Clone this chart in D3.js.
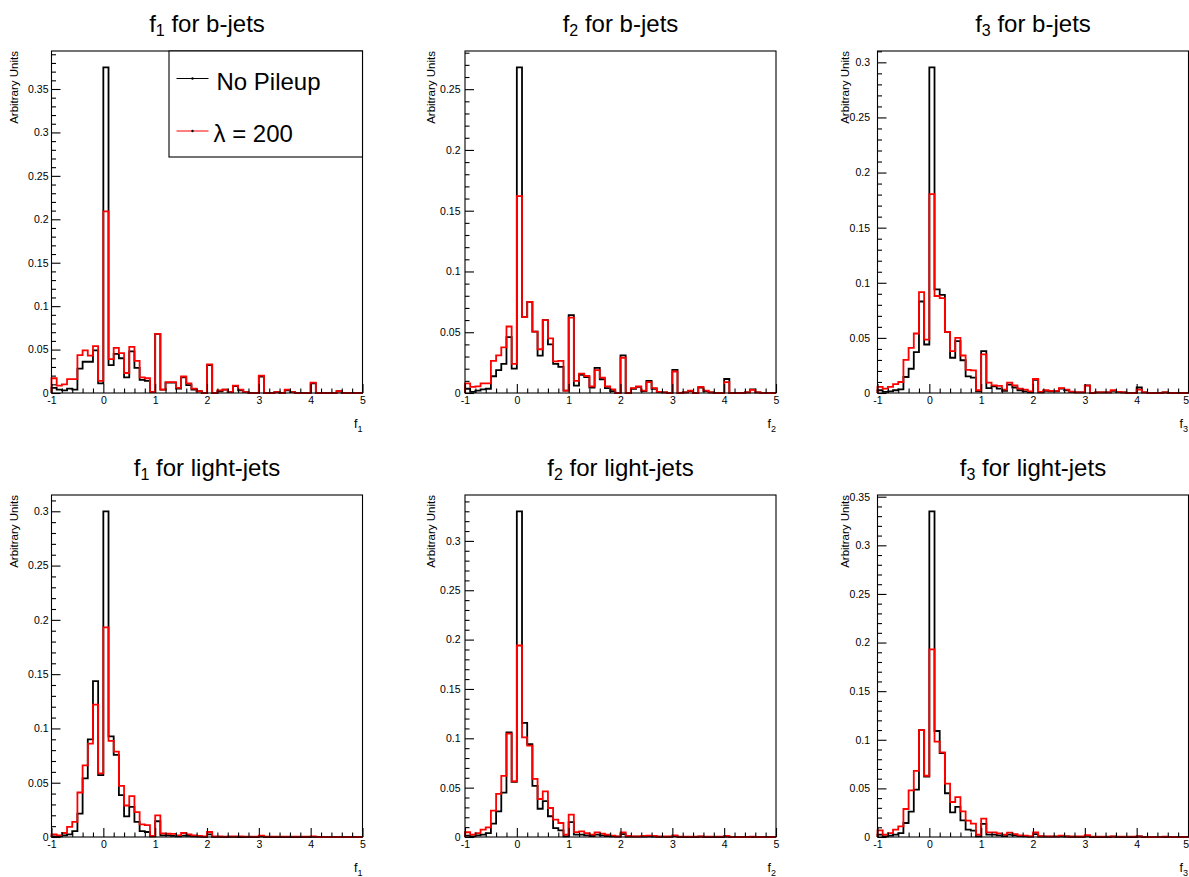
<!DOCTYPE html>
<html><head><meta charset="utf-8">
<script src="https://cdn.jsdelivr.net/npm/d3@7"></script>
<style>
html,body{margin:0;padding:0;background:#fff;}
svg{display:block;font-family:"Liberation Sans",Arial,Helvetica,sans-serif;}
</style></head><body>
<svg id="c" width="1189" height="877"></svg>
<script>
// ---------------- data ----------------
const xRange = [-1, 5];
const nBins = 60;
const xMajorTicks = [-1, 0, 1, 2, 3, 4, 5];
const varIndex = ["1", "2", "3"];
const jetTypes = ["b-jets", "light-jets"];
const legendLabels = ["No Pileup", "λ = 200"];
const seriesColors = ["#000000", "#ff0000"];

// f1, b-jets
const bF1NoPU = [0.006,0.004,0.003,0.005,0.004,0.028,0.036,0.036,0.049,0.011,
  0.375,0.032,0.045,0.040,0.018,0.048,0.029,0.015,0.014,0.001,
  0.068,0.004,0.012,0.012,0.005,0.018,0.009,0.004,0.002,0,
  0.032,0,0.002,0.004,0.001,0.008,0.003,0.001,0,0,
  0.019,0,0,0.001,0,0.003,0.001,0,0,0,
  0.011,0,0,0,0,0.002,0,0,0,0];
const bF1PU200 = [0.017,0.0085,0.010,0.016,0.016,0.0435,0.049,0.043,0.054,0.014,
  0.209,0.039,0.052,0.046,0.023,0.053,0.037,0.018,0.017,0.001,
  0.068,0.004,0.0125,0.0125,0.006,0.019,0.011,0.005,0.002,0,
  0.033,0,0.003,0.004,0.001,0.0085,0.004,0.001,0,0,
  0.020,0,0,0.001,0,0.004,0.001,0,0,0,
  0.012,0,0,0,0,0.002,0,0,0,0];
// f2, b-jets
const bF2NoPU = [0.0035,0.001,0.002,0.003,0.0035,0.0138,0.0188,0.024,0.046,0.020,
  0.268,0.0624,0.075,0.0505,0.0307,0.060,0.040,0.024,0.0215,0.002,
  0.064,0.006,0.015,0.013,0.0045,0.0207,0.0113,0.004,0.0015,0,
  0.031,0,0.0035,0.005,0.0015,0.010,0.0035,0.001,0.0005,0,
  0.019,0,0.0005,0.0015,0,0.0045,0.0015,0.0005,0,0,
  0.0115,0,0,0,0.0005,0.003,0.0005,0,0,0];
const bF2PU200 = [0.008,0.005,0.0055,0.008,0.008,0.0265,0.031,0.0375,0.0547,0.024,
  0.162,0.0624,0.075,0.0505,0.036,0.060,0.045,0.026,0.0265,0.002,
  0.062,0.010,0.016,0.014,0.0055,0.0188,0.0127,0.0055,0.003,0,
  0.029,0,0.004,0.0055,0.002,0.009,0.004,0.001,0.0005,0,
  0.0177,0,0.0005,0.002,0,0.005,0.002,0.0005,0,0,
  0.009,0,0,0,0.0005,0.0025,0.0005,0,0,0];
// f3, b-jets
const bF3NoPU = [0.0025,0.001,0.0015,0.0025,0.0033,0.0145,0.022,0.037,0.083,0.044,
  0.2955,0.094,0.089,0.0555,0.032,0.047,0.0297,0.015,0.014,0.0015,
  0.038,0.0045,0.006,0.004,0.002,0.0076,0.005,0.0025,0.0015,0.0005,
  0.012,0.0005,0.002,0.0015,0.0015,0.004,0.0025,0.001,0.0005,0.0005,
  0.007,0,0.0005,0.0005,0.0005,0.002,0.001,0.0005,0,0,
  0.005,0.0005,0,0,0,0.0005,0,0,0,0];
const bF3PU200 = [0.0055,0.004,0.0055,0.008,0.010,0.030,0.041,0.054,0.0915,0.0485,
  0.1805,0.088,0.086,0.0555,0.038,0.050,0.034,0.021,0.0206,0.0025,
  0.035,0.0094,0.007,0.0064,0.003,0.0094,0.007,0.004,0.003,0.0015,
  0.0127,0.001,0.0025,0.002,0.002,0.0045,0.003,0.0012,0.0005,0.0005,
  0.0067,0,0.0005,0.0005,0.0005,0.0025,0.001,0.0005,0,0,
  0.003,0.0005,0,0,0,0.0005,0,0,0,0];
// f1, light-jets
const lF1NoPU = [0.0005,0.0005,0.0015,0.0025,0.0055,0.0216,0.054,0.090,0.1435,0.057,
  0.300,0.0926,0.0756,0.0386,0.019,0.0277,0.0139,0.0055,0.0046,0.0005,
  0.0145,0.0015,0.0015,0.001,0.0005,0.0012,0.001,0.0005,0.0003,0.0002,
  0.0025,0.0002,0.0002,0,0.0002,0.0002,0,0,0,0,
  0.0005,0,0,0,0,0,0,0,0,0,
  0.0002,0,0,0,0,0,0,0,0,0];
const lF1PU200 = [0.0025,0.0015,0.0037,0.0093,0.014,0.041,0.066,0.086,0.122,0.0586,
  0.193,0.0886,0.0787,0.047,0.029,0.0377,0.023,0.0117,0.011,0.001,
  0.020,0.0034,0.003,0.0028,0.0015,0.0037,0.0025,0.0015,0.001,0.0005,
  0.0046,0.0005,0.0005,0.0003,0.0005,0.0005,0.0005,0.0003,0.0003,0.0003,
  0.0012,0.0003,0.0003,0.0003,0.0003,0.0003,0.0003,0.0003,0.0003,0.0003,
  0.0006,0,0,0,0,0,0,0,0,0];
// f2, light-jets
const lF2NoPU = [0.0014,0.0007,0.0017,0.0024,0.004,0.0136,0.026,0.045,0.106,0.056,
  0.330,0.1156,0.094,0.0517,0.0286,0.0364,0.021,0.009,0.0068,0.0007,
  0.015,0.0024,0.0024,0.0017,0.001,0.0024,0.0017,0.001,0.0007,0.0003,
  0.003,0.0005,0.0003,0.0003,0.0005,0.0007,0.0005,0.0002,0.0002,0.0002,
  0.001,0,0,0,0,0.0003,0,0,0,0,
  0.0005,0,0,0,0,0,0,0,0,0];
const lF2PU200 = [0.0048,0.0024,0.004,0.0075,0.0098,0.0267,0.0436,0.062,0.1047,0.0564,
  0.194,0.101,0.0926,0.0588,0.0385,0.0463,0.0294,0.0176,0.0142,0.0024,
  0.0226,0.005,0.0057,0.004,0.0024,0.0047,0.0034,0.0024,0.0014,0.0007,
  0.0047,0.001,0.0007,0.0007,0.001,0.0014,0.001,0.0005,0.0005,0.0005,
  0.0017,0.0003,0.0003,0.0003,0.0003,0.0005,0.0003,0.0003,0.0003,0.0003,
  0.001,0.0002,0,0,0,0.0003,0,0,0,0];
// f3, light-jets
const lF3NoPU = [0.0024,0.0007,0.0014,0.0024,0.004,0.0144,0.026,0.0487,0.110,0.062,
  0.335,0.109,0.0864,0.045,0.0254,0.031,0.017,0.0075,0.0065,0.0007,
  0.0134,0.0024,0.0024,0.0017,0.001,0.0024,0.0017,0.001,0.0007,0.0003,
  0.003,0.0005,0.0003,0.0003,0.0003,0.0007,0.0005,0.0002,0.0002,0.0002,
  0.0012,0,0,0,0,0.0003,0,0,0,0,
  0.0005,0,0,0,0,0,0,0,0,0];
const lF3PU200 = [0.0069,0.0024,0.004,0.0075,0.011,0.0288,0.048,0.068,0.110,0.063,
  0.193,0.098,0.087,0.055,0.036,0.041,0.0264,0.0168,0.0137,0.0024,
  0.019,0.0048,0.0048,0.0038,0.0024,0.0045,0.003,0.0017,0.0014,0.0007,
  0.0048,0.001,0.0007,0.0007,0.0007,0.0014,0.0007,0.0005,0.0005,0.0005,
  0.002,0.0003,0.0003,0.0003,0.0003,0.0005,0.0003,0.0003,0.0003,0.0003,
  0.0007,0.0002,0,0,0,0.0003,0,0,0,0];

const panelSeries = [
  [bF1NoPU, bF1PU200], [bF2NoPU, bF2PU200], [bF3NoPU, bF3PU200],
  [lF1NoPU, lF1PU200], [lF2NoPU, lF2PU200], [lF3NoPU, lF3PU200]
];

// ---------------- layout ----------------
const frameLeft = [51.5, 465, 877.5];
const frameW = 311;
const frameTop = [51, 495];
const frameH = 342;
const yTitleX = [18, 435, 848.5];
const yLabelPad = [3, 4.5, 7.5];
const FONT_TICK = 10.5;
const CANVAS_W = 1189;

const svg = d3.select("#c");

function histPoints(vals) {
  const w = (xRange[1] - xRange[0]) / nBins;
  const pts = [[xRange[0], 0]];
  vals.forEach((v, i) => {
    const lo = xRange[0] + i * w;
    pts.push([lo, v], [lo + w, v]);
  });
  pts.push([xRange[1], 0]);
  return pts;
}

panelSeries.forEach((series, p) => {
  const row = Math.floor(p / 3), col = p % 3;
  const L = frameLeft[col], T = frameTop[row];
  const x = d3.scaleLinear().domain(xRange).range([L, L + frameW]);
  const ymax = 1.05 * d3.max(series.flat());
  const y = d3.scaleLinear().domain([0, ymax]).range([T + frameH, T]);
  const g = svg.append("g");

  // title
  const tt = g.append("text")
    .attr("x", L + frameW / 2).attr("y", T - 19.5)
    .attr("text-anchor", "middle").attr("font-size", 24).attr("fill", "#000");
  tt.append("tspan").text("f");
  tt.append("tspan").attr("font-size", 16).attr("dy", 4.5).text(varIndex[col]);
  tt.append("tspan").attr("dy", -4.5).text(" for " + jetTypes[row]);

  // histograms
  const line = d3.line().x(d => x(d[0])).y(d => y(d[1]));
  series.forEach((vals, s) => {
    g.append("path").attr("d", line(histPoints(vals)))
      .attr("fill", "none").attr("stroke", seriesColors[s])
      .attr("stroke-width", 1.8).attr("stroke-linejoin", "miter");
  });

  // frame
  g.append("rect").attr("x", L).attr("y", T).attr("width", frameW).attr("height", frameH)
    .attr("fill", "none").attr("stroke", "#000").attr("stroke-width", 1.1);

  // y axis ticks
  const yMaj = d3.range(0, Math.floor(ymax / 0.05 + 1e-6) + 1).map(i => +(i * 0.05).toFixed(2));
  const yMin = d3.range(0, Math.floor(ymax / 0.01 + 1e-6) + 1).map(i => +(i * 0.01).toFixed(2))
    .filter(v => Math.round(v * 100) % 5 !== 0);
  const yAx = g.append("g").attr("transform", `translate(${L},0)`)
    .call(d3.axisLeft(y).tickValues(yMaj).tickSize(-9).tickPadding(yLabelPad[col])
      .tickFormat(d => d3.format("~g")(d)));
  const yAxm = g.append("g").attr("transform", `translate(${L},0)`)
    .call(d3.axisLeft(y).tickValues(yMin).tickSize(-4.5).tickFormat(""));
  // x axis ticks
  const xMin = d3.range(-5, 26).map(i => +(i * 0.2).toFixed(1)).filter(v => Math.abs(v - Math.round(v)) > 1e-6);
  const xAx = g.append("g").attr("transform", `translate(0,${T + frameH})`)
    .call(d3.axisBottom(x).tickValues(xMajorTicks).tickSize(-9).tickPadding(5)
      .tickFormat(d => String(d)));
  const xAxm = g.append("g").attr("transform", `translate(0,${T + frameH})`)
    .call(d3.axisBottom(x).tickValues(xMin).tickSize(-4.5).tickFormat(""));
  [yAx, yAxm, xAx, xAxm].forEach(a => {
    a.select(".domain").remove();
    a.selectAll("line").attr("stroke", "#000").attr("stroke-width", 1.1);
    a.selectAll("text").attr("font-size", FONT_TICK).attr("fill", "#000")
      .attr("font-family", '"Liberation Sans",Arial,sans-serif');
  });
  xAx.selectAll("text").attr("dy", "0.55em");
  // keep the last tick label inside the canvas when the frame touches its edge
  xAx.selectAll(".tick").each(function(d) {
    if (x(d) + 3 > CANVAS_W) {
      d3.select(this).select("text").attr("text-anchor", "end").attr("x", CANVAS_W - 0.5 - x(d));
    }
  });

  // x axis title
  const xt = g.append("text").attr("x", Math.min(L + frameW, CANVAS_W - 1)).attr("y", T + frameH + 34.5)
    .attr("text-anchor", "end").attr("font-size", 12.5).attr("fill", "#000");
  xt.append("tspan").text("f");
  xt.append("tspan").attr("font-size", 9).attr("dy", 4).text(varIndex[col]);

  // y axis title
  g.append("text").attr("transform", `translate(${yTitleX[col]},${T}) rotate(-90)`)
    .attr("text-anchor", "end").attr("font-size", 11.5).attr("fill", "#000")
    .text("Arbitrary Units");

  // legend (first panel only)
  if (p === 0) {
    const lg = g.append("g");
    lg.append("rect").attr("x", 169).attr("y", T).attr("width", L + frameW - 169).attr("height", 106)
      .attr("fill", "#fff").attr("stroke", "#000").attr("stroke-width", 1.1);
    const ly = [T + 27.5, T + 80];
    const tx = [216.5, 213.5];
    legendLabels.forEach((lab, i) => {
      lg.append("line").attr("x1", 176.5).attr("x2", 208.5).attr("y1", ly[i]).attr("y2", ly[i])
        .attr("stroke", seriesColors[i]).attr("stroke-width", 1.2);
      lg.append("circle").attr("cx", 192.5).attr("cy", ly[i]).attr("r", 1.2).attr("fill", "#000");
      lg.append("text").attr("x", tx[i]).attr("y", ly[i] + 11).attr("font-size", 24)
        .attr("fill", "#000").text(lab);
    });
  }
});
</script>
</body></html>
